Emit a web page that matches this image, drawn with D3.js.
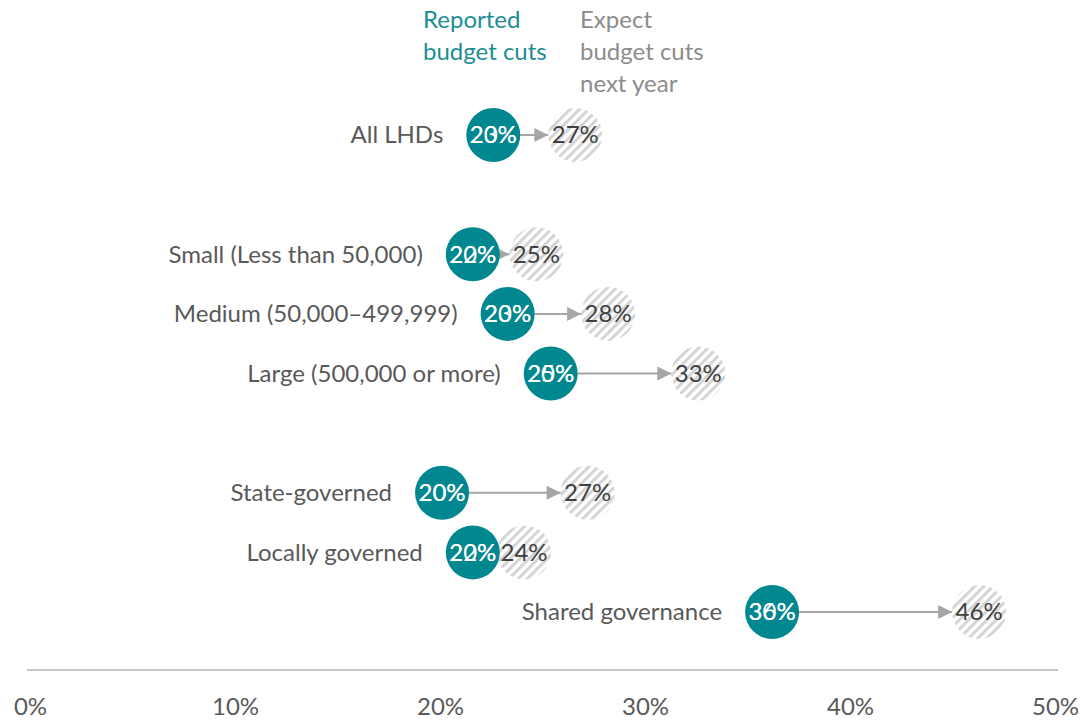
<!DOCTYPE html>
<html>
<head>
<meta charset="utf-8">
<script src="https://cdn.jsdelivr.net/npm/d3@7"></script>
<style>
  body { margin: 0; background: #fff; }
  svg { display: block; font-family: Lato, 'Open Sans', sans-serif; }
</style>
</head>
<body>
<svg id="chart" width="1082" height="721"></svg>
<script>
// data
const categories = [
  'All LHDs',
  'Small (Less than 50,000)',
  'Medium (50,000\u2013499,999)',
  'Large (500,000 or more)',
  'State-governed',
  'Locally governed',
  'Shared governance'
]
// row slots, gaps between the groups
const rowSlots = [
  'All LHDs', 'gap-1',
  'Small (Less than 50,000)', 'Medium (50,000\u2013499,999)', 'Large (500,000 or more)', 'gap-2',
  'State-governed', 'Locally governed', 'Shared governance'
]
const reported = [22.6, 21.6, 23.3, 25.4, 20.1, 21.6, 36.2]
const expected = [26.6, 24.7, 28.2, 32.6, 27.2, 24.1, 46.3]
const tickValues = [0, 10, 20, 30, 40, 50]
const legendReported = ['Reported', 'budget cuts']
const legendExpected = ['Expect', 'budget cuts', 'next year']

const teal = '#00878f'
const arrowGrey = '#a6a6a6'
const labelGrey = '#595959'
const r = 27
const fontSize = '24px'

const data = categories.map((c, i) => ({ cat: c, rep: reported[i], exp: expected[i] }))

const svg = d3.select('#chart')

const x = d3.scaleLinear().domain([0, 50]).range([30, 1055])
const y = d3.scalePoint().domain(rowSlots).range([135, 612])
const pct = d3.format('.0f')

const defs = svg.append('defs')
defs.append('pattern')
  .attr('id', 'stripes')
  .attr('patternUnits', 'userSpaceOnUse')
  .attr('width', 6.5)
  .attr('height', 6.5)
  .attr('patternTransform', 'rotate(45)')
  .call(p => p.append('rect').attr('width', 6.5).attr('height', 6.5).attr('fill', '#fff'))
  .append('rect')
    .attr('width', 3)
    .attr('height', 6.5)
    .attr('fill', '#d4d4d4')

defs.append('marker')
  .attr('id', 'arrow')
  .attr('viewBox', '0 0 10 10')
  .attr('refX', 10)
  .attr('refY', 5)
  .attr('markerWidth', 7.5)
  .attr('markerHeight', 7)
  .attr('orient', 'auto')
  .append('path')
    .attr('d', 'M0,0L10,5L0,10Z')
    .attr('fill', arrowGrey)

// legend
svg.append('text')
  .attr('x', 423)
  .attr('y', 28)
  .attr('fill', '#1b8d95')
  .style('font-size', fontSize)
  .selectAll('tspan')
  .data(legendReported)
  .join('tspan')
    .attr('x', 423)
    .attr('dy', (d, i) => i ? 32 : 0)
    .text(d => d)

svg.append('text')
  .attr('x', 580)
  .attr('y', 28)
  .attr('fill', '#8c8c8c')
  .style('font-size', fontSize)
  .selectAll('tspan')
  .data(legendExpected)
  .join('tspan')
    .attr('x', 580)
    .attr('dy', (d, i) => i ? 32 : 0)
    .text(d => d)

// axis
const xAxis = d3.axisBottom(x)
  .tickValues(tickValues)
  .tickSize(0)
  .tickPadding(28)
  .tickFormat(d => d + '%')

const gx = svg.append('g')
  .attr('transform', 'translate(0, 670)')
  .call(xAxis)
gx.select('.domain')
  .attr('d', `M${x(0) - 3},0H${x(50) + 3}`)
  .attr('stroke', '#c8c8c8')
  .attr('stroke-width', 2)
gx.selectAll('text')
  .attr('fill', labelGrey)
  .style('font-family', 'Lato, sans-serif')
  .style('font-size', fontSize)

const rows = svg.append('g')
  .selectAll('g')
  .data(data)
  .join('g')
    .attr('transform', d => `translate(0, ${y(d.cat)})`)

// expected (striped) circles
rows.append('circle')
  .attr('cx', d => x(d.exp))
  .attr('r', r)
  .attr('fill', 'url(#stripes)')

// arrows
rows.filter(d => x(d.exp) - x(d.rep) > 2 * r)
  .append('line')
    .attr('x1', d => x(d.rep) + r)
    .attr('x2', d => x(d.exp) - r)
    .attr('stroke', arrowGrey)
    .attr('stroke-width', 2)
    .attr('marker-end', 'url(#arrow)')

// reported circles
rows.append('circle')
  .attr('cx', d => x(d.rep))
  .attr('r', r)
  .attr('fill', teal)

// category labels
rows.append('text')
  .attr('x', d => x(d.rep) - r - 23)
  .attr('dy', '0.35em')
  .attr('text-anchor', 'end')
  .attr('fill', labelGrey)
  .style('font-size', fontSize)
  .text(d => d.cat)

// expected value labels
rows.append('text')
  .attr('x', d => x(d.exp))
  .attr('dy', '0.35em')
  .attr('text-anchor', 'middle')
  .attr('fill', '#404040')
  .style('font-size', fontSize)
  .text(d => pct(d.exp) + '%')

// reported value labels (two overlapping texts, as in the source)
rows.append('text')
  .attr('x', d => x(d.rep))
  .attr('dy', '0.35em')
  .attr('text-anchor', 'middle')
  .attr('fill', '#fff')
  .style('font-size', fontSize)
  .text(d => Math.floor(d.rep / 10) * 10 + '%')

rows.append('text')
  .attr('x', d => x(d.rep))
  .attr('dy', '0.35em')
  .attr('text-anchor', 'middle')
  .attr('fill', '#fff')
  .style('font-size', fontSize)
  .text(d => pct(d.rep) + '%')
</script>
</body>
</html>
